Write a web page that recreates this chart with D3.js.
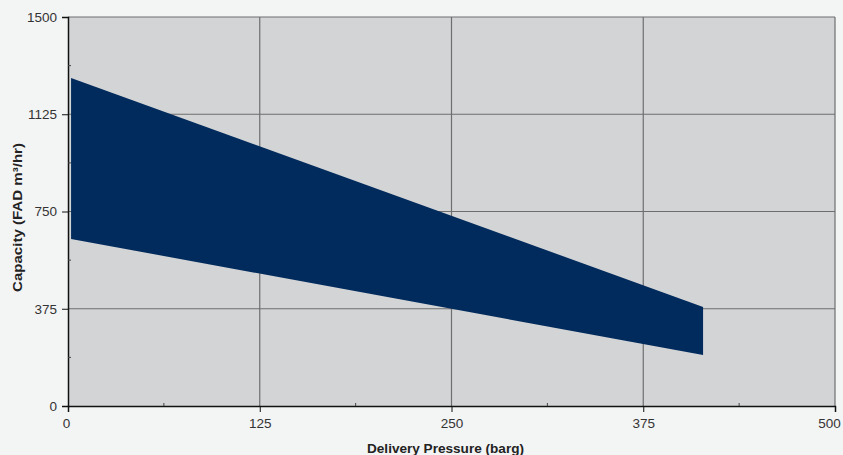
<!DOCTYPE html>
<html><head><meta charset="utf-8">
<script src="https://cdn.jsdelivr.net/npm/d3@7"></script>
<style>
html,body{margin:0;padding:0;background:#f3f4f4;}
svg{display:block;font-family:"Liberation Sans",Arial,sans-serif;}
</style></head>
<body><svg id="c" width="843" height="455"></svg>
<script>
const pressure = [2, 414];
const upperCapacity = [1265, 382];
const lowerCapacity = [644, 197];
const xTicks = [0, 125, 250, 375, 500];
const yTicks = [0, 375, 750, 1125, 1500];
const xMinor = [62.5, 187.5, 312.5, 437.5];
const yMinor = [187.5, 562.5, 937.5, 1312.5];

const svg = d3.select("#c");
const L = 68, R = 835, T = 17, B = 406;
const x = d3.scaleLinear().domain([0, 500]).range([L, R]);
const y = d3.scaleLinear().domain([0, 1500]).range([B, T]);

svg.append("rect").attr("x", L).attr("y", T).attr("width", R - L).attr("height", B - T).attr("fill", "#d3d4d6");

// gridlines
svg.append("g").selectAll("line").data(xTicks.slice(1)).join("line")
  .attr("x1", d => x(d)).attr("x2", d => x(d)).attr("y1", T).attr("y2", B)
  .attr("stroke", "#6e6e6e").attr("stroke-width", 1.2);
svg.append("g").selectAll("line").data(yTicks.slice(1)).join("line")
  .attr("x1", L).attr("x2", R).attr("y1", d => y(d)).attr("y2", d => y(d))
  .attr("stroke", "#6e6e6e").attr("stroke-width", 1.2);

// band
const data = pressure.map((p, i) => ({p, hi: upperCapacity[i], lo: lowerCapacity[i]}));
svg.append("path").datum(data)
  .attr("d", d3.area().x(d => x(d.p)).y0(d => y(d.lo)).y1(d => y(d.hi)))
  .attr("fill", "#002b5c");

// axes
const xAxis = d3.axisBottom(x).tickValues(xTicks).tickFormat(d3.format("d")).tickSize(6).tickPadding(4);
const gx = svg.append("g").attr("transform", `translate(0,${B})`).call(xAxis);
const yAxis = d3.axisLeft(y).tickValues(yTicks).tickFormat(d3.format("d")).tickSize(6).tickPadding(5);
const gy = svg.append("g").attr("transform", `translate(${L},0)`).call(yAxis);
[gx, gy].forEach(g => {
  g.attr("font-size", null).attr("font-family", null);
  g.select(".domain").attr("stroke", "#111").attr("stroke-width", 1.5);
  g.selectAll(".tick line").attr("stroke", "#111");
  g.selectAll("text").style("font-size", "13.5px").attr("fill", "#333")
    .style("font-family", "'Liberation Sans',Arial,sans-serif");
});
gx.selectAll(".tick text").attr("dy", "0.9em");
gx.selectAll(".tick text").filter(d => d === 500).attr("dx", -6);
gx.selectAll(".tick text").filter(d => d === 0).attr("dx", -2);
// minor ticks
svg.append("g").selectAll("line").data(xMinor).join("line")
  .attr("x1", d => x(d)).attr("x2", d => x(d)).attr("y1", B).attr("y2", B - 3)
  .attr("stroke", "#444");
svg.append("g").selectAll("line").data(yMinor).join("line")
  .attr("x1", L).attr("x2", L + 3).attr("y1", d => y(d)).attr("y2", d => y(d))
  .attr("stroke", "#444");

svg.append("text").attr("x", 445.5).attr("y", 453).attr("text-anchor", "middle")
  .style("font-size", "13.5px").attr("font-weight", "bold").attr("fill", "#222")
  .attr("textLength", 157).attr("lengthAdjust", "spacingAndGlyphs")
  .text("Delivery Pressure (barg)");
svg.append("text").attr("transform", "translate(22,217.5) rotate(-90)").attr("text-anchor", "middle")
  .style("font-size", "13.5px").attr("font-weight", "bold").attr("fill", "#222")
  .attr("textLength", 149).attr("lengthAdjust", "spacingAndGlyphs")
  .text("Capacity (FAD m³/hr)");
</script></body></html>
